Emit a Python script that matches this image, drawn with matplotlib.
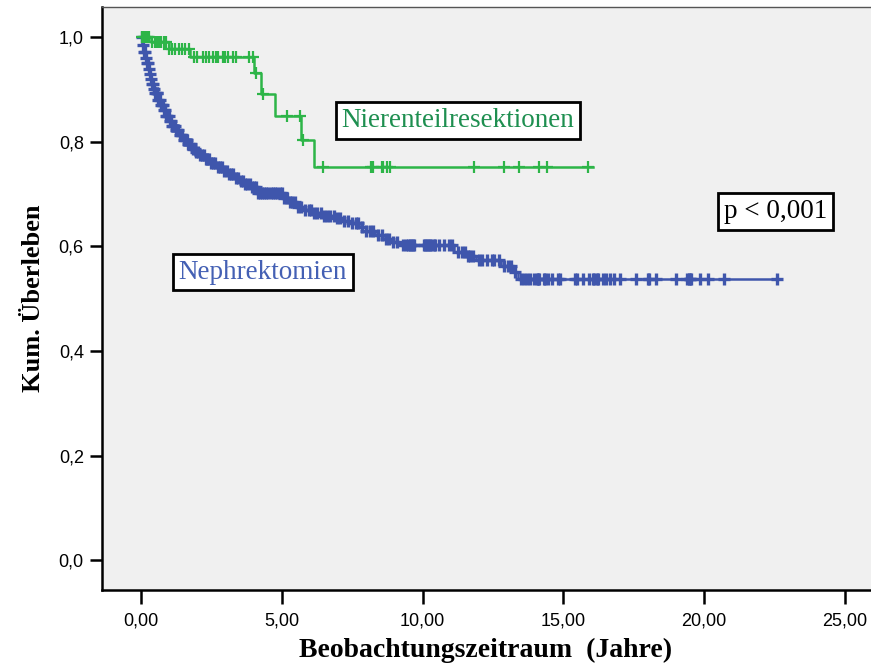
import numpy as np
import matplotlib
matplotlib.use("Agg")
import matplotlib.pyplot as plt

# Kaplan-Meier step knots (time in years, cumulative survival)
nephr_times = [0.0, 0.05, 0.1, 0.15, 0.2, 0.25, 0.3, 0.35, 0.4, 0.45, 0.5, 0.6, 0.7,
               0.8, 0.9, 1.0, 1.1, 1.2, 1.35, 1.5, 1.65, 1.8, 1.95, 2.1, 2.3, 2.5, 2.7,
               2.9, 3.1, 3.3, 3.5, 3.7, 3.9, 4.1, 5.05, 5.25, 5.5, 5.8, 6.1, 6.5, 6.9,
               7.2, 7.5, 7.8, 8.0, 8.3, 8.6, 8.9, 9.2, 11.1, 11.6, 11.9, 12.8, 13.2, 13.4]
nephr_surv = [1.0, 0.985, 0.972, 0.96, 0.95, 0.94, 0.93, 0.92, 0.91, 0.90, 0.893, 0.88, 0.87,
              0.86, 0.85, 0.84, 0.83, 0.822, 0.812, 0.803, 0.795, 0.787, 0.78, 0.775, 0.768, 0.76, 0.752,
              0.745, 0.738, 0.731, 0.725, 0.72, 0.714, 0.702, 0.692, 0.684, 0.676, 0.67, 0.664, 0.659, 0.654,
              0.649, 0.644, 0.637, 0.63, 0.622, 0.615, 0.609, 0.602, 0.59, 0.582, 0.574, 0.562, 0.551, 0.537]
nephr_end = 22.6

nephr_censored = [0.02, 0.06, 0.1, 0.13, 0.17, 0.21, 0.24, 0.28, 0.32, 0.36, 0.4, 0.43, 0.47,
                  0.51, 0.55, 0.58, 0.62, 0.66, 0.7, 0.74, 0.78, 0.82, 0.86, 0.9, 0.94, 0.98,
                  1.02, 1.06, 1.1, 1.15, 1.19, 1.24, 1.28, 1.33, 1.38, 1.42, 1.47, 1.52, 1.57,
                  1.62, 1.68, 1.73, 1.79, 1.85, 1.91, 1.97, 2.03, 2.1, 2.16, 2.23, 2.3, 2.36,
                  2.43, 2.5, 2.57, 2.64, 2.72, 2.8, 2.88, 2.96, 3.04, 3.12, 3.2, 3.28, 3.36,
                  3.45, 3.54, 3.62, 3.7, 3.78, 3.86, 3.93, 4.0, 4.08, 4.15, 4.22, 4.3, 4.38,
                  4.45, 4.52, 4.6, 4.68, 4.76, 4.84, 4.92, 5.0, 5.08, 5.18, 5.28, 5.38, 5.48,
                  5.58, 5.7, 5.82, 5.95, 6.05, 6.15, 6.25, 6.38, 6.5, 6.6, 6.72, 6.85, 6.95,
                  7.05, 7.2, 7.35, 7.5, 7.62, 7.7, 7.85, 8.0, 8.12, 8.25, 8.4, 8.55, 8.7, 8.8,
                  8.95, 9.1, 9.3, 9.4, 9.5, 9.55, 9.6, 9.65, 9.7, 10.05, 10.1, 10.15, 10.2,
                  10.25, 10.3, 10.4, 10.45, 10.6, 10.75, 10.95, 11.05, 11.25, 11.4, 11.5, 11.6,
                  11.7, 11.8, 12.0, 12.1, 12.3, 12.45, 12.55, 12.7, 12.9, 13.05, 13.15, 13.3,
                  13.5, 13.6, 13.7, 13.8, 13.95, 14.05, 14.1, 14.15, 14.3, 14.35, 14.45, 14.6,
                  14.8, 14.9, 15.4, 15.5, 15.7, 15.9, 16.05, 16.1, 16.2, 16.25, 16.4, 16.5,
                  16.65, 16.8, 17.0, 17.6, 18.0, 18.05, 18.3, 19.0, 19.4, 19.45, 19.5, 19.55,
                  19.85, 20.15, 20.7, 22.6]

nt_times = [0.0, 0.35, 1.0, 1.75, 4.03, 4.25, 4.75, 5.7, 6.15]
nt_surv = [1.0, 0.99, 0.978, 0.962, 0.931, 0.891, 0.849, 0.803, 0.751]
nt_end = 16.05

nt_censored = [0.05, 0.1, 0.15, 0.2, 0.25, 0.3, 0.4, 0.5, 0.55, 0.65, 0.7, 0.8, 0.9, 1.0,
               1.1, 1.2, 1.35, 1.45, 1.55, 1.7, 1.87, 2.0, 2.19, 2.29, 2.4, 2.54, 2.65, 2.75,
               2.9, 3.0, 3.1, 3.25, 3.36, 3.82, 3.96, 4.08, 4.35, 5.2, 5.65, 5.75, 6.47,
               8.16, 8.25, 8.55, 8.61, 8.72, 8.84, 11.83, 12.91, 13.42, 14.14, 14.43, 15.89]

yticks = [0.0, 0.2, 0.4, 0.6, 0.8, 1.0]
xticks = [0, 5, 10, 15, 20, 25]

blue = "#3F56AC"
green = "#2DB548"


def km_level(times, surv, t):
    # survival value in effect at time t (right-continuous step)
    idx = np.searchsorted(times, t, side="right") - 1
    return np.asarray(surv)[idx]


def draw_km(ax, times, surv, end, censored, color, ms, mew):
    xs = list(times) + [end]
    ys = list(surv) + [surv[-1]]
    ax.step(xs, ys, where="post", color=color, lw=1.8, zorder=3)
    cy = km_level(times, surv, censored)
    ax.plot(censored, cy, "+", color=color, ms=ms, mew=mew, zorder=4)


fig = plt.figure(figsize=(8.71, 6.66), dpi=100)
ax = fig.add_axes([0.117, 0.114, 0.883, 0.875])
ax.set_facecolor("#F0F0F0")

draw_km(ax, nephr_times, nephr_surv, nephr_end, nephr_censored, blue, 9, 2.4)
draw_km(ax, nt_times, nt_surv, nt_end, nt_censored, green, 8, 1.6)

ax.set_xlim(-1.39, 25.93)
ax.set_ylim(-0.057, 1.057)
ax.set_xticks(xticks)
ax.set_xticklabels([f"{v:.2f}".replace(".", ",") for v in xticks],
                   fontfamily="Liberation Sans", fontsize=13)
ax.set_yticks(yticks)
ax.set_yticklabels([f"{v:.1f}".replace(".", ",") for v in yticks],
                   fontfamily="Liberation Sans", fontsize=13)
ax.tick_params(axis="x", direction="out", length=10, width=1.8, pad=6)
ax.tick_params(axis="y", direction="out", length=9, width=1.8, pad=4)

for side in ("left", "bottom"):
    ax.spines[side].set_linewidth(1.8)
ax.spines["top"].set_color("#555555")
ax.spines["top"].set_linewidth(1.0)
ax.spines["right"].set_visible(False)

# axis titles placed in figure coordinates so the x title sits close to the bottom edge
fig.text(0.558, 0.013, "Beobachtungszeitraum  (Jahre)", fontfamily="Liberation Serif",
         fontweight="bold", fontsize=20, ha="center", va="baseline")
ax.set_ylabel("Kum. Überleben", fontfamily="Liberation Serif",
              fontweight="bold", fontsize=19, labelpad=10)

box = dict(boxstyle="square,pad=0.22", facecolor="white", edgecolor="black", lw=2.0)
ax.text(11.26, 0.841, "Nierenteilresektionen", color="#1E8F50", fontsize=19.5,
        fontfamily="Liberation Serif", ha="center", va="center", bbox=box)
ax.text(4.33, 0.551, "Nephrektomien", color="#4460B4", fontsize=19.5,
        fontfamily="Liberation Serif", ha="center", va="center", bbox=box)
ax.text(22.55, 0.667, "p < 0,001", color="black", fontsize=19.5,
        fontfamily="Liberation Serif", ha="center", va="center", bbox=box)

fig.savefig("out.png", dpi=100, facecolor="white")
